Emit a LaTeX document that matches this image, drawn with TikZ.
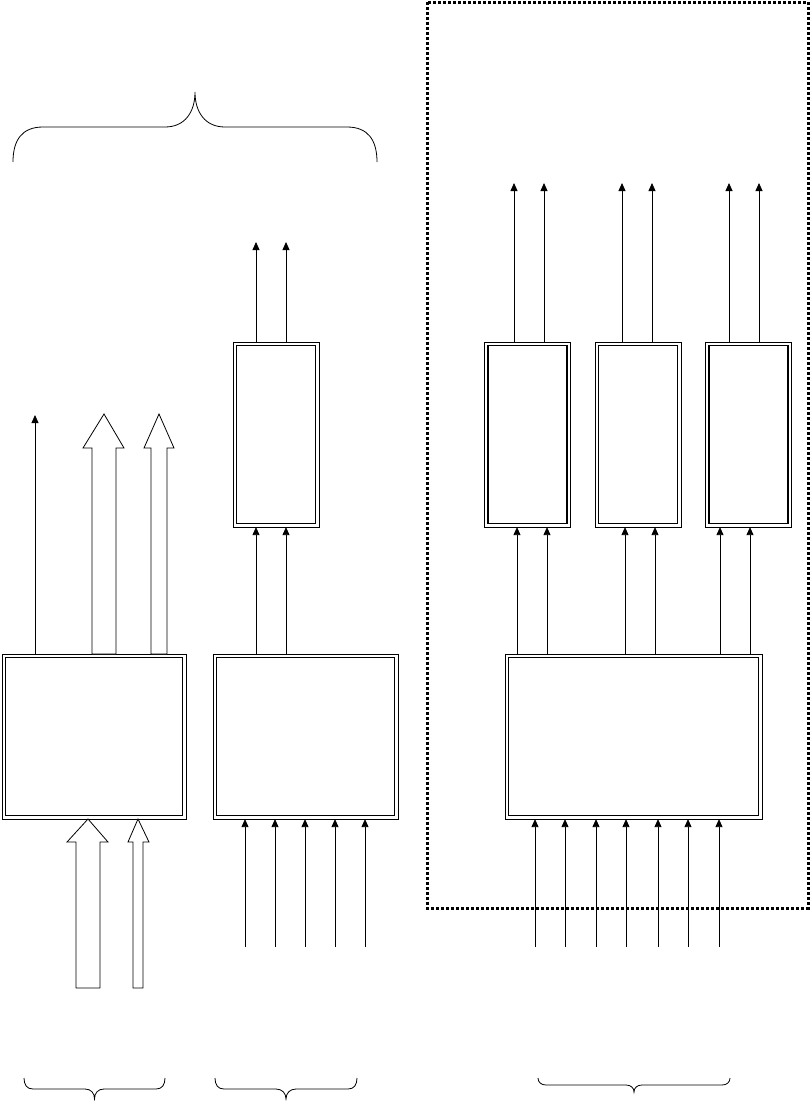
\documentclass[tikz,border=0pt]{standalone}
\usetikzlibrary{positioning,calc,arrows.meta}

\begin{document}
\begin{tikzpicture}[
    x=1pt, y=-1pt,
    dbox/.style={rectangle, draw, line width=1.8pt, inner sep=0pt, outer sep=3.6pt},
    bigbox/.style={dbox, minimum width=#1, minimum height=158pt},
    smallbox/.style={dbox, minimum width=79pt, minimum height=178pt},
    rim/.style={draw, line width=0.7pt},
    sig/.style={-{Triangle[length=8pt, width=7pt]}, line width=0.8pt},
    fat/.style={draw, line width=0.8pt, fill=white, line join=miter},
    zone/.style={draw, line width=3pt, dash pattern=on 3pt off 2pt},
    curly/.style={draw, line width=0.8pt}
]

\useasboundingbox (0,0) rectangle (811,1101);

% Dotted frame
\draw[zone] (427,2) rectangle (808,908);

% Boxes
\node[bigbox=177pt] (boxA) at (94,736.5) {};
\node[bigbox=178pt] (boxB) at (305.5,736.5) {};
\node[bigbox=250pt] (boxC) at (633.5,736.5) {};
\node[smallbox] (boxD) at (276,434.5) {};
\node[smallbox] (boxE) at (527.5,434.5) {};
\node[smallbox] (boxF) at (638,434.5) {};
\node[smallbox] (boxG) at (748.5,434.5) {};

% Outer rims
\foreach \b in {boxA,boxB,boxC,boxD,boxE,boxF,boxG}
  \draw[rim] (\b.north west) rectangle (\b.south east);

% Column A
\coordinate (aout) at (35,415);
\draw[sig] (aout |- boxA.north) -- (aout);
\draw[fat] (92,654) -- (92,448) -- (83,448) -- (104,414) -- (124,448) -- (116,448) -- (116,654) -- cycle;
\draw[fat] (151,654) -- (151,448) -- (144,448) -- (159,414) -- (174,448) -- (167,448) -- (167,654) -- cycle;
\draw[fat] (76,988) -- (76,842) -- (67,842) -- (88,819) -- (108,842) -- (100,842) -- (100,988) -- cycle;
\draw[fat] (133,988) -- (133,842) -- (128,842) -- (138,819) -- (149,842) -- (143,842) -- (143,988) -- cycle;

% Column B
\foreach \x [count=\i] in {245,275,305,335,365} {
  \coordinate (bin\i) at (\x,947);
  \draw[sig] (bin\i) -- (bin\i |- boxB.south);
}
\foreach \x [count=\i] in {256,286} {
  \coordinate (bout\i) at (\x,242);
  \draw[sig] (bout\i |- boxB.north) -- (bout\i |- boxD.south);
  \draw[sig] (bout\i |- boxD.north) -- (bout\i);
}

% Column C
\foreach \x [count=\i] in {535,565,596,626,658,688,719} {
  \coordinate (cin\i) at (\x,947);
  \draw[sig] (cin\i) -- (cin\i |- boxC.south);
}
\foreach \x/\b [count=\i] in {517/boxE,547/boxE,625/boxF,655/boxF,720/boxG,750/boxG} {
  \coordinate (cmid\i) at (\x,600);
  \draw[sig] (cmid\i |- boxC.north) -- (cmid\i |- \b.south);
}
\foreach \x/\b [count=\i] in {514/boxE,544/boxE,622/boxF,652/boxF,729/boxG,759/boxG} {
  \coordinate (cout\i) at (\x,183);
  \draw[sig] (cout\i |- \b.north) -- (cout\i);
}

% Braces
\draw[curly] (13,162) .. controls (13,140) and (22,127) .. (43,127) -- (165,127)
  .. controls (185,127) and (195,112) .. (195,92)
  .. controls (195,112) and (205,127) .. (225,127) -- (347,127)
  .. controls (368,127) and (377,140) .. (377,162);
\draw[curly] (24,1078) .. controls (24,1085) and (27,1089) .. (33,1089) -- (85,1089)
  .. controls (91,1089) and (94.5,1093) .. (94.5,1099)
  .. controls (94.5,1093) and (98,1089) .. (104,1089) -- (156,1089)
  .. controls (162,1089) and (165,1085) .. (165,1078);
\draw[curly] (215,1078) .. controls (215,1085) and (218,1089) .. (224,1089) -- (276,1089)
  .. controls (282,1089) and (286,1093) .. (286,1099)
  .. controls (286,1093) and (290,1089) .. (296,1089) -- (348,1089)
  .. controls (354,1089) and (357,1085) .. (357,1078);
\draw[curly] (538,1078) .. controls (538,1082) and (541,1085) .. (546,1085) -- (626,1085)
  .. controls (631,1085) and (634,1088) .. (634,1092)
  .. controls (634,1088) and (637,1085) .. (642,1085) -- (722,1085)
  .. controls (727,1085) and (730,1082) .. (730,1078);

\end{tikzpicture}
\end{document}
